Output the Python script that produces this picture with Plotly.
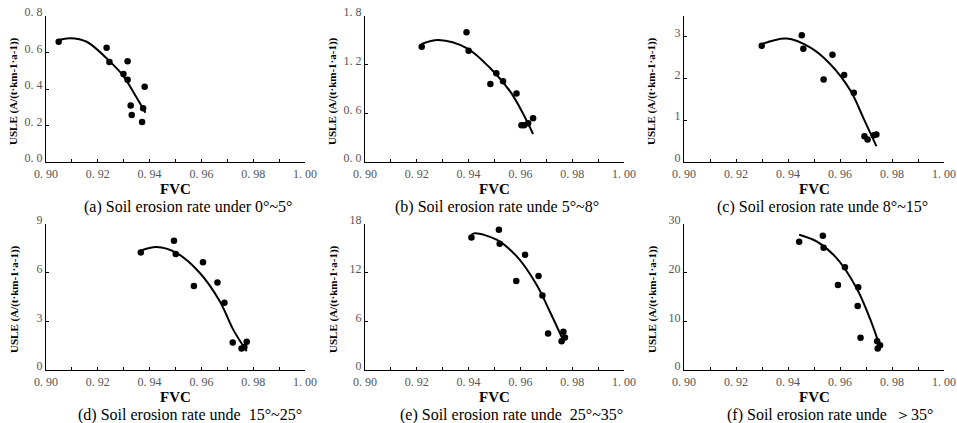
import plotly.graph_objects as go

W, H = 957, 423

# ---- data ----
a_x = [0.9049, 0.9234, 0.9245, 0.9315, 0.9299, 0.9315, 0.9327, 0.9331, 0.9381, 0.9375, 0.9371]
a_y = [0.659, 0.626, 0.548, 0.552, 0.482, 0.451, 0.309, 0.258, 0.413, 0.294, 0.219]
a_fx = [0.9049, 0.9093, 0.9157, 0.9247, 0.9299, 0.9344, 0.9384]
a_fy = [0.669, 0.678, 0.659, 0.550, 0.471, 0.367, 0.270]

b_x = [0.9219, 0.9392, 0.9400, 0.9507, 0.9484, 0.9533, 0.9585, 0.9604, 0.9614, 0.9630, 0.9649]
b_y = [1.422, 1.599, 1.373, 1.093, 0.962, 0.995, 0.843, 0.452, 0.452, 0.477, 0.538]
b_fx = [0.9219, 0.9284, 0.9394, 0.9484, 0.9561, 0.9613, 0.9649]
b_fy = [1.455, 1.504, 1.402, 1.155, 0.867, 0.580, 0.345]

c_x = [0.9299, 0.9453, 0.9459, 0.9537, 0.9571, 0.9616, 0.9653, 0.9694, 0.9706, 0.9730, 0.9740]
c_y = [2.786, 3.040, 2.714, 1.976, 2.571, 2.087, 1.659, 0.619, 0.540, 0.643, 0.659]
c_fx = [0.9299, 0.9395, 0.9485, 0.9562, 0.9640, 0.9691, 0.9740]
c_fy = [2.825, 2.960, 2.746, 2.349, 1.714, 1.040, 0.381]

d_x = [0.9366, 0.9494, 0.9501, 0.9571, 0.9606, 0.9662, 0.9689, 0.9721, 0.9755, 0.9766, 0.9775]
d_y = [7.246, 7.969, 7.143, 5.182, 6.647, 5.388, 4.150, 1.693, 1.321, 1.424, 1.734]
d_fx = [0.9366, 0.9427, 0.9505, 0.9595, 0.9672, 0.9724, 0.9775]
d_fy = [7.349, 7.576, 7.205, 5.966, 4.211, 2.457, 1.156]

e_x = [0.9411, 0.9517, 0.9520, 0.9584, 0.9618, 0.9670, 0.9685, 0.9707, 0.9759, 0.9766, 0.9772]
e_y = [16.35, 17.30, 15.57, 10.98, 14.20, 11.60, 9.17, 4.50, 3.55, 4.71, 4.00]
e_fx = [0.9411, 0.9425, 0.9508, 0.9586, 0.9663, 0.9714, 0.9768]
e_fy = [16.68, 16.85, 16.06, 14.00, 10.49, 7.18, 3.47]

f_x = [0.9443, 0.9534, 0.9537, 0.9592, 0.9619, 0.9670, 0.9668, 0.9679, 0.9743, 0.9745, 0.9754]
f_y = [26.36, 27.60, 25.12, 17.48, 21.13, 17.00, 13.15, 6.61, 5.92, 4.40, 5.09]
f_fx = [0.9443, 0.9510, 0.9587, 0.9664, 0.9715, 0.9754]
f_fy = [27.80, 26.42, 22.98, 16.80, 10.60, 4.75]

x_ticks = [0.90, 0.92, 0.94, 0.96, 0.98, 1.00]
x_labels = ["0. 90", "0. 92", "0. 94", "0. 96", "0. 98", "1. 00"]

a_ticks = [0, 0.2, 0.4, 0.6, 0.8]; a_labels = ["0. 0", "0. 2", "0. 4", "0. 6", "0. 8"]
b_ticks = [0, 0.6, 1.2, 1.8]; b_labels = ["0. 0", "0. 6", "1. 2", "1. 8"]
c_ticks = [0, 1, 2, 3]; c_labels = ["0", "1", "2", "3"]
d_ticks = [0, 3, 6, 9]; d_labels = ["0", "3", "6", "9"]
e_ticks = [0, 6, 12, 18]; e_labels = ["0", "6", "12", "18"]
f_ticks = [0, 10, 20, 30]; f_labels = ["0", "10", "20", "30"]

captions = [
    "(a) Soil erosion rate under 0°~5°",
    "(b) Soil erosion rate unde 5°~8°",
    "(c) Soil erosion rate unde 8°~15°",
    "(d) Soil erosion rate unde  15°~25°",
    "(e) Soil erosion rate unde  25°~35°",
    "(f) Soil erosion rate unde  ＞35°",
]
y_title = "USLE (A/(t·km-1·a-1))"
x_title = "FVC"

panels = [
    (a_x, a_y, a_fx, a_fy, a_ticks, a_labels, 0.8),
    (b_x, b_y, b_fx, b_fy, b_ticks, b_labels, 1.8),
    (c_x, c_y, c_fx, c_fy, c_ticks, c_labels, 3.5),
    (d_x, d_y, d_fx, d_fy, d_ticks, d_labels, 9),
    (e_x, e_y, e_fx, e_fy, e_ticks, e_labels, 18),
    (f_x, f_y, f_fx, f_fy, f_ticks, f_labels, 30),
]

# ---- layout (pixels) ----
col_px = [(46, 305), (365, 624), (684, 944)]
row_px = [(16, 162), (224, 370)]
cap_cx = [188, 497, 822, 190, 511, 830]

SERIF = "Liberation Serif"

fig = go.Figure()
annotations = []
for i, (px, py, fx, fy, yt, yl, ymax) in enumerate(panels):
    r, c = divmod(i, 3)
    n = "" if i == 0 else str(i + 1)
    xa, ya = "x" + n, "y" + n
    x0, x1 = col_px[c]
    t0, b0 = row_px[r]
    fig.add_trace(go.Scatter(x=fx, y=fy, mode="lines", line=dict(color="black", width=2, shape="spline", smoothing=1.0),
                             xaxis=xa, yaxis=ya, showlegend=False, hoverinfo="skip"))
    fig.add_trace(go.Scatter(x=px, y=py, mode="markers", marker=dict(color="black", size=6.5),
                             xaxis=xa, yaxis=ya, showlegend=False))
    common = dict(showgrid=False, zeroline=False, showline=True, linecolor="black", linewidth=1.2,
                  ticks="inside", ticklen=3, tickcolor="black", automargin=False,
                  tickfont=dict(family=SERIF, size=12, color="#555555"))
    fig.layout["xaxis" + n] = dict(common, domain=[x0 / W, x1 / W], anchor=ya, range=[0.90, 1.00],
                                   tickvals=x_ticks, ticktext=x_labels,
                                   minor=dict(dtick=0.01, ticks="inside", ticklen=3, tickcolor="black"))
    fig.layout["yaxis" + n] = dict(common, domain=[1 - b0 / H, 1 - t0 / H], anchor=xa, range=[0, ymax],
                                   tickvals=yt, ticktext=yl, ticklabelshift=-4)
    xc = (x0 + x1) / 2
    annotations.append(dict(text="<b>" + x_title + "</b>", x=xc / W, y=1 - (b0 + 27) / H, xref="paper", yref="paper",
                            showarrow=False, font=dict(family=SERIF, size=15, color="black"),
                            xanchor="center", yanchor="middle"))
    annotations.append(dict(text=captions[i], x=cap_cx[i] / W, y=1 - (b0 + 45) / H, xref="paper", yref="paper",
                            showarrow=False, font=dict(family=SERIF, size=16, color="black"),
                            xanchor="center", yanchor="middle"))
    annotations.append(dict(text="<b>" + y_title + "</b>", x=(x0 - 32) / W, y=1 - ((t0 + b0) / 2 + 2) / H,
                            xref="paper", yref="paper", showarrow=False, textangle=-90,
                            font=dict(family=SERIF, size=11, color="black"), xanchor="center", yanchor="middle"))

fig.update_layout(width=W, height=H, margin=dict(l=0, r=0, t=0, b=0, pad=0, autoexpand=False),
                  paper_bgcolor="white", plot_bgcolor="white", annotations=annotations,
                  font=dict(family=SERIF), hovermode=False)
fig.write_html("out.html", config={"displayModeBar": False, "staticPlot": True},
               post_script="document.body.style.margin='0';document.body.style.overflow='hidden';")
